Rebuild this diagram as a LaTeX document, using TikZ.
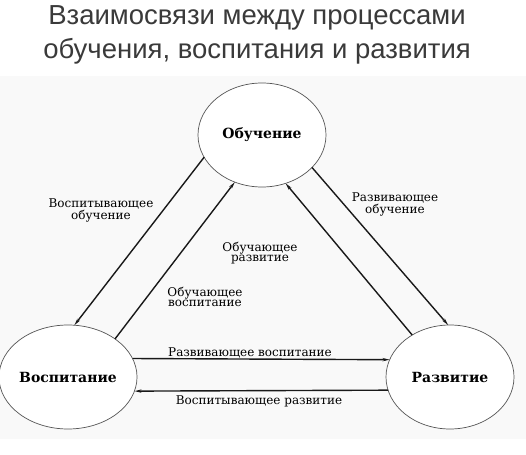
\documentclass[tikz,border=0pt]{standalone}
\usepackage{fontspec}
\setmainfont{DejaVu Serif}
\newfontfamily\titlefont{Liberation Sans}
\usetikzlibrary{shapes.geometric,arrows.meta}
\definecolor{titlegray}{HTML}{3A3A3A}
\definecolor{bggray}{HTML}{F9F9F9}
\definecolor{edgegray}{HTML}{555555}
\tikzset{
  concept/.style={ellipse, draw=edgegray, line width=0.7pt, fill=white,
    minimum width=128pt, minimum height=104pt, inner sep=0pt, outer sep=0pt,
    font=\fontsize{14}{15}\selectfont\bfseries},
  link/.style={draw=black!90, line width=1.4pt,
    -{Stealth[length=7pt,width=3.2pt]}},
  linklabel/.style={align=center, inner sep=0pt,
    font=\fontsize{12}{10.5}\selectfont},
  titletext/.style={align=center, inner sep=0pt, text=titlegray,
    font=\titlefont\fontsize{27.5}{33.5}\selectfont}
}
\begin{document}
\begin{tikzpicture}[x=1pt,y=-1pt]
\useasboundingbox (0,0) rectangle (526,454);
\fill[bggray] (0,76) rectangle (526,439);
\node[titletext] (title) at (257,35) {Взаимосвязи между процессами\\обучения, воспитания и развития};

\node[concept] (learn) at (262,135) {Обучение};
\node[concept] (educ) at (68,377) {Воспитание};
\node[concept] (devel) at (450,377) {Развитие};

\draw[link] (learn.201) -- (educ.83);
\draw[link] (educ.39) -- (learn.240);
\draw[link] (devel.132) -- (learn.296);
\draw[link] (learn.327) -- (devel.92);
\draw[link] (educ.16) -- (devel.164);
\draw[link] (devel.192) -- (educ.348);

\node[linklabel] (l1) at (101,210) {Воспитывающее\\обучение};
\node[linklabel] (l2) at (205,297) {Обучающее\\воспитание};
\node[linklabel] (l3) at (260,253) {Обучающее\\развитие};
\node[linklabel] (l4) at (395,204) {Развивающее\\обучение};
\node[linklabel] (l5) at (250,353) {Развивающее воспитание};
\node[linklabel] (l6) at (259,401) {Воспитывающее развитие};
\end{tikzpicture}
\end{document}
